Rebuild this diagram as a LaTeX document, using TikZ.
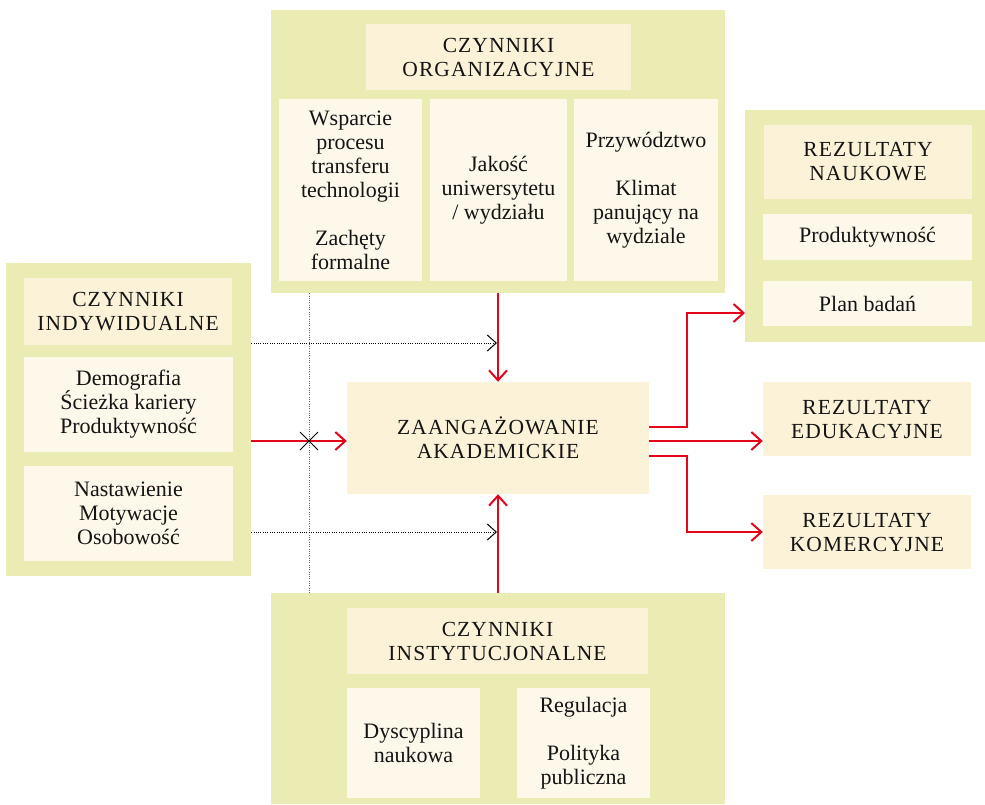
\documentclass[tikz,border=0pt]{standalone}
\usepackage{fontspec}
\setmainfont{Liberation Serif}
\usetikzlibrary{arrows.meta}
\definecolor{grpcol}{RGB}{235,235,180}
\definecolor{hdrcol}{RGB}{252,242,215}
\definecolor{subcol}{RGB}{254,248,234}
\definecolor{redcol}{RGB}{227,6,26}
\definecolor{txtcol}{RGB}{20,20,20}
\definecolor{dotgrey}{RGB}{100,100,100}
\begin{document}
\begin{tikzpicture}[x=1pt,y=-1pt,
  grp/.style={fill=grpcol, draw=none, inner sep=0pt},
  hdr/.style={fill=hdrcol, draw=none, inner sep=0pt, align=center, text=txtcol, font=\fontsize{21.5}{24}\selectfont\addfontfeatures{LetterSpace=5}},
  sub/.style={fill=subcol, draw=none, inner sep=0pt, align=center, text=txtcol, font=\fontsize{22}{24}\selectfont},
  redarr/.style={draw=redcol, line width=2pt, -{Straight Barb[length=10pt,width=18pt]}},
  dotarr/.style={draw=black, line width=1pt, dash pattern=on 1pt off 1.3pt, -{Straight Barb[length=9pt,width=16pt,line width=1pt]}},
  dotline/.style={draw=dotgrey, line width=1pt, dash pattern=on 1pt off 1.3pt},
  crossline/.style={draw=black, line width=1pt}]
\useasboundingbox (0,0) rectangle (985,804);

% Organizational factors (top)
\node[grp, minimum width=454pt, minimum height=283pt] (org) at (498,151.5) {};
\node[hdr, minimum width=265pt, minimum height=66pt] (orghdr) at (498.5,57) {CZYNNIKI\\ORGANIZACYJNE};
\node[sub, minimum width=143pt, minimum height=182pt] (org1) at (350.5,190) {Wsparcie\\procesu\\transferu\\technologii\\[24pt]Zachęty\\formalne};
\node[sub, minimum width=137pt, minimum height=182pt] (org2) at (498.5,190) {Jakość\\uniwersytetu\\/ wydziału};
\node[sub, minimum width=144pt, minimum height=182pt] (org3) at (646,190) {Przywództwo\\[24pt]Klimat\\panujący na\\wydziale};

% Individual factors (left)
\node[grp, minimum width=245pt, minimum height=313pt] (ind) at (128.5,419.5) {};
\node[hdr, minimum width=208pt, minimum height=67pt] (indhdr) at (128,311.5) {CZYNNIKI\\INDYWIDUALNE};
\node[sub, minimum width=209pt, minimum height=95pt] (ind1) at (128.5,404.5) {Demografia\\Ścieżka kariery\\Produktywność};
\node[sub, minimum width=209pt, minimum height=95pt] (ind2) at (128.5,513.5) {Nastawienie\\Motywacje\\Osobowość};

% Centre
\node[hdr, minimum width=302pt, minimum height=112pt] (zaang) at (498,438) {ZAANGAŻOWANIE\\AKADEMICKIE};

% Scientific results (right)
\node[grp, minimum width=240pt, minimum height=232pt] (nauk) at (865,226) {};
\node[hdr, minimum width=208pt, minimum height=74pt] (naukhdr) at (868,162) {REZULTATY\\NAUKOWE};
\node[sub, minimum width=209pt, minimum height=46pt] (nauk1) at (867.5,237) {Produktywność};
\node[sub, minimum width=209pt, minimum height=45pt] (nauk2) at (867.5,303.5) {Plan badań};

\node[hdr, minimum width=208pt, minimum height=74pt] (edu) at (867,419) {REZULTATY\\EDUKACYJNE};
\node[hdr, minimum width=208pt, minimum height=74pt] (kom) at (867,532) {REZULTATY\\KOMERCYJNE};

% Institutional factors (bottom)
\node[grp, minimum width=454pt, minimum height=211pt] (inst) at (498,698.5) {};
\node[hdr, minimum width=301pt, minimum height=66pt] (insthdr) at (497.5,641) {CZYNNIKI\\INSTYTUCJONALNE};
\node[sub, minimum width=133pt, minimum height=110pt] (inst1) at (413.5,743) {Dyscyplina\\naukowa};
\node[sub, minimum width=133pt, minimum height=110pt] (inst2) at (583.5,743) {Regulacja\\[24pt]Polityka\\publiczna};

% helper coordinates
\coordinate (vx) at (309,441);
\coordinate (d1) at (497,343);
\coordinate (d2) at (497,532);
\coordinate (r1) at (745,313);

% dotted lines
\draw[dotline] (org.south -| vx) -- (inst.north -| vx);
\draw[dotarr] (ind.east |- d1) -- (d1);
\draw[dotarr] (ind.east |- d2) -- (d2);

% red arrows into centre
\draw[redarr] (org.south) -- (zaang.north);
\draw[redarr] (inst.north) -- (zaang.south);
\draw[redarr] (ind.east |- vx) -- (zaang.west |- vx);

% cross
\draw[crossline] ([shift={(-9,-9)}]vx) -- ([shift={(9,9)}]vx);
\draw[crossline] ([shift={(-9,9)}]vx) -- ([shift={(9,-9)}]vx);

% red arrows out of centre
\draw[redarr] ([yshift=11pt]zaang.east) -- ++(38,0) |- (r1);
\draw[redarr] ([yshift=-3pt]zaang.east) -- ([yshift=-3pt]zaang.east -| edu.west);
\draw[redarr] ([yshift=-18pt]zaang.east) -- ++(38,0) |- (kom.west);
\end{tikzpicture}
\end{document}
